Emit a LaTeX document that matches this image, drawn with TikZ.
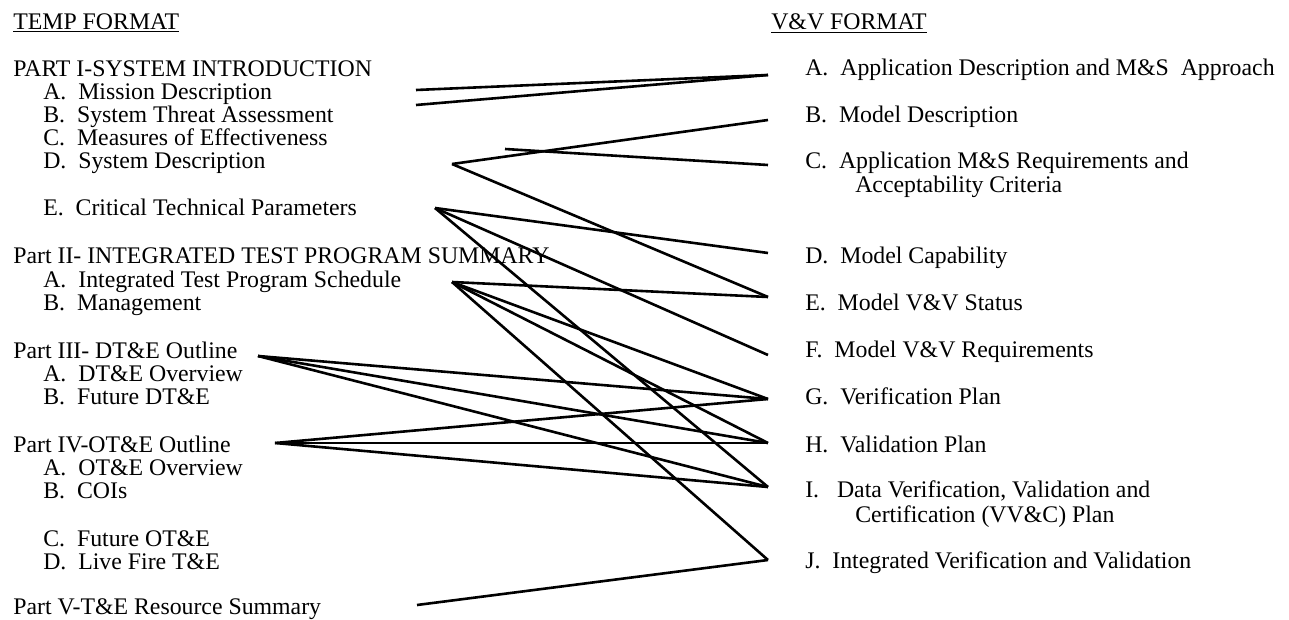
\documentclass[tikz,border=0pt]{standalone}
\usepackage{fontspec}
\setmainfont{Liberation Serif}
\tikzset{
  every picture/.style={line width=2.6pt},
  item/.style={anchor=base west, inner sep=0pt, font=\fontsize{23.8}{23}\selectfont},
  link/.style={draw=black, line width=2.6pt, line cap=butt},
}
\begin{document}
\begin{tikzpicture}[x=1pt, y=-1pt]
  \useasboundingbox (0,0) rectangle (1289,620);
  % TEMP column
  \node[item] (tHead) at (12,30) {\underline{TEMP FORMAT}};
  \node[item] (tI)    at (12,77)  {PART I-SYSTEM INTRODUCTION};
  \node[item] (tIA)   at (42,100) {A.\ \ Mission Description};
  \node[item] (tIB)   at (42,123) {B.\ \ System Threat Assessment};
  \node[item] (tIC)   at (42,146) {C.\ \ Measures of Effectiveness};
  \node[item] (tID)   at (42,169) {D.\ \ System Description};
  \node[item] (tIE)   at (42,216) {E.\ \ Critical Technical Parameters};
  \node[item] (tII)   at (12,263) {Part II- INTEGRATED TEST PROGRAM SUMMARY};
  \node[item] (tIIA)  at (42,287) {A.\ \ Integrated Test Program Schedule};
  \node[item] (tIIB)  at (42,310) {B.\ \ Management};
  \node[item] (tIII)  at (12,358) {Part III- DT\&E Outline};
  \node[item] (tIIIA) at (42,381) {A.\ \ DT\&E Overview};
  \node[item] (tIIIB) at (42,404) {B.\ \ Future DT\&E};
  \node[item] (tIV)   at (12,452) {Part IV-OT\&E Outline};
  \node[item] (tIVA)  at (42,475) {A.\ \ OT\&E Overview};
  \node[item] (tIVB)  at (42,498) {B.\ \ COIs};
  \node[item] (tIVC)  at (42,546) {C.\ \ Future OT\&E};
  \node[item] (tIVD)  at (42,569) {D.\ \ Live Fire T\&E};
  \node[item] (tV)    at (12,614) {Part V-T\&E Resource Summary};
  % V&V column
  \node[item] (vHead) at (770,30) {\underline{V\&V FORMAT}};
  \node[item] (vA)  at (804,76)  {A.\ \ Application Description and M\&S\ \ Approach};
  \node[item] (vB)  at (804,123) {B.\ \ Model Description};
  \node[item] (vC)  at (804,169) {C.\ \ Application M\&S Requirements and};
  \node[item] (vC2) at (854,193) {Acceptability Criteria};
  \node[item] (vD)  at (804,263) {D.\ \ Model Capability};
  \node[item] (vE)  at (804,310) {E.\ \ Model V\&V Status};
  \node[item] (vF)  at (804,357) {F.\ \ Model V\&V Requirements};
  \node[item] (vG)  at (804,404) {G.\ \ Verification Plan};
  \node[item] (vH)  at (804,452) {H.\ \ Validation Plan};
  \node[item] (vI)  at (804,497) {I.\ \ \ Data Verification, Validation and};
  \node[item] (vI2) at (854,522) {Certification (VV\&C) Plan};
  \node[item] (vJ)  at (804,568) {J.\ \ Integrated Verification and Validation};
  % line ends
  \coordinate (pMis) at (416,90);
  \coordinate (pThr) at (416,105);
  \coordinate (pMoe) at (505,149);
  \coordinate (pSys) at (452,164);
  \coordinate (pCtp) at (435,208);
  \coordinate (pSch) at (452,282);
  \coordinate (pDte) at (258,356);
  \coordinate (pOte) at (275,443);
  \coordinate (pRes) at (417,605);
  \foreach \n/\y in {A/75, B/120, C/165, D/253, E/297, F/355, G/399, H/443, I/487, J/560}
    \coordinate (q\n) at (768,\y);
  % mapping
  \foreach \a/\b in {pMis/qA, pThr/qA, pSys/qB, pSys/qE, pMoe/qC,
                     pCtp/qD, pCtp/qF, pCtp/qI, pSch/qE, pSch/qG, pSch/qH, pSch/qJ,
                     pDte/qG, pDte/qH, pDte/qI, pOte/qG, pOte/qH, pOte/qI, pRes/qJ}
    \draw[link] (\a) -- (\b);
\end{tikzpicture}
\end{document}
